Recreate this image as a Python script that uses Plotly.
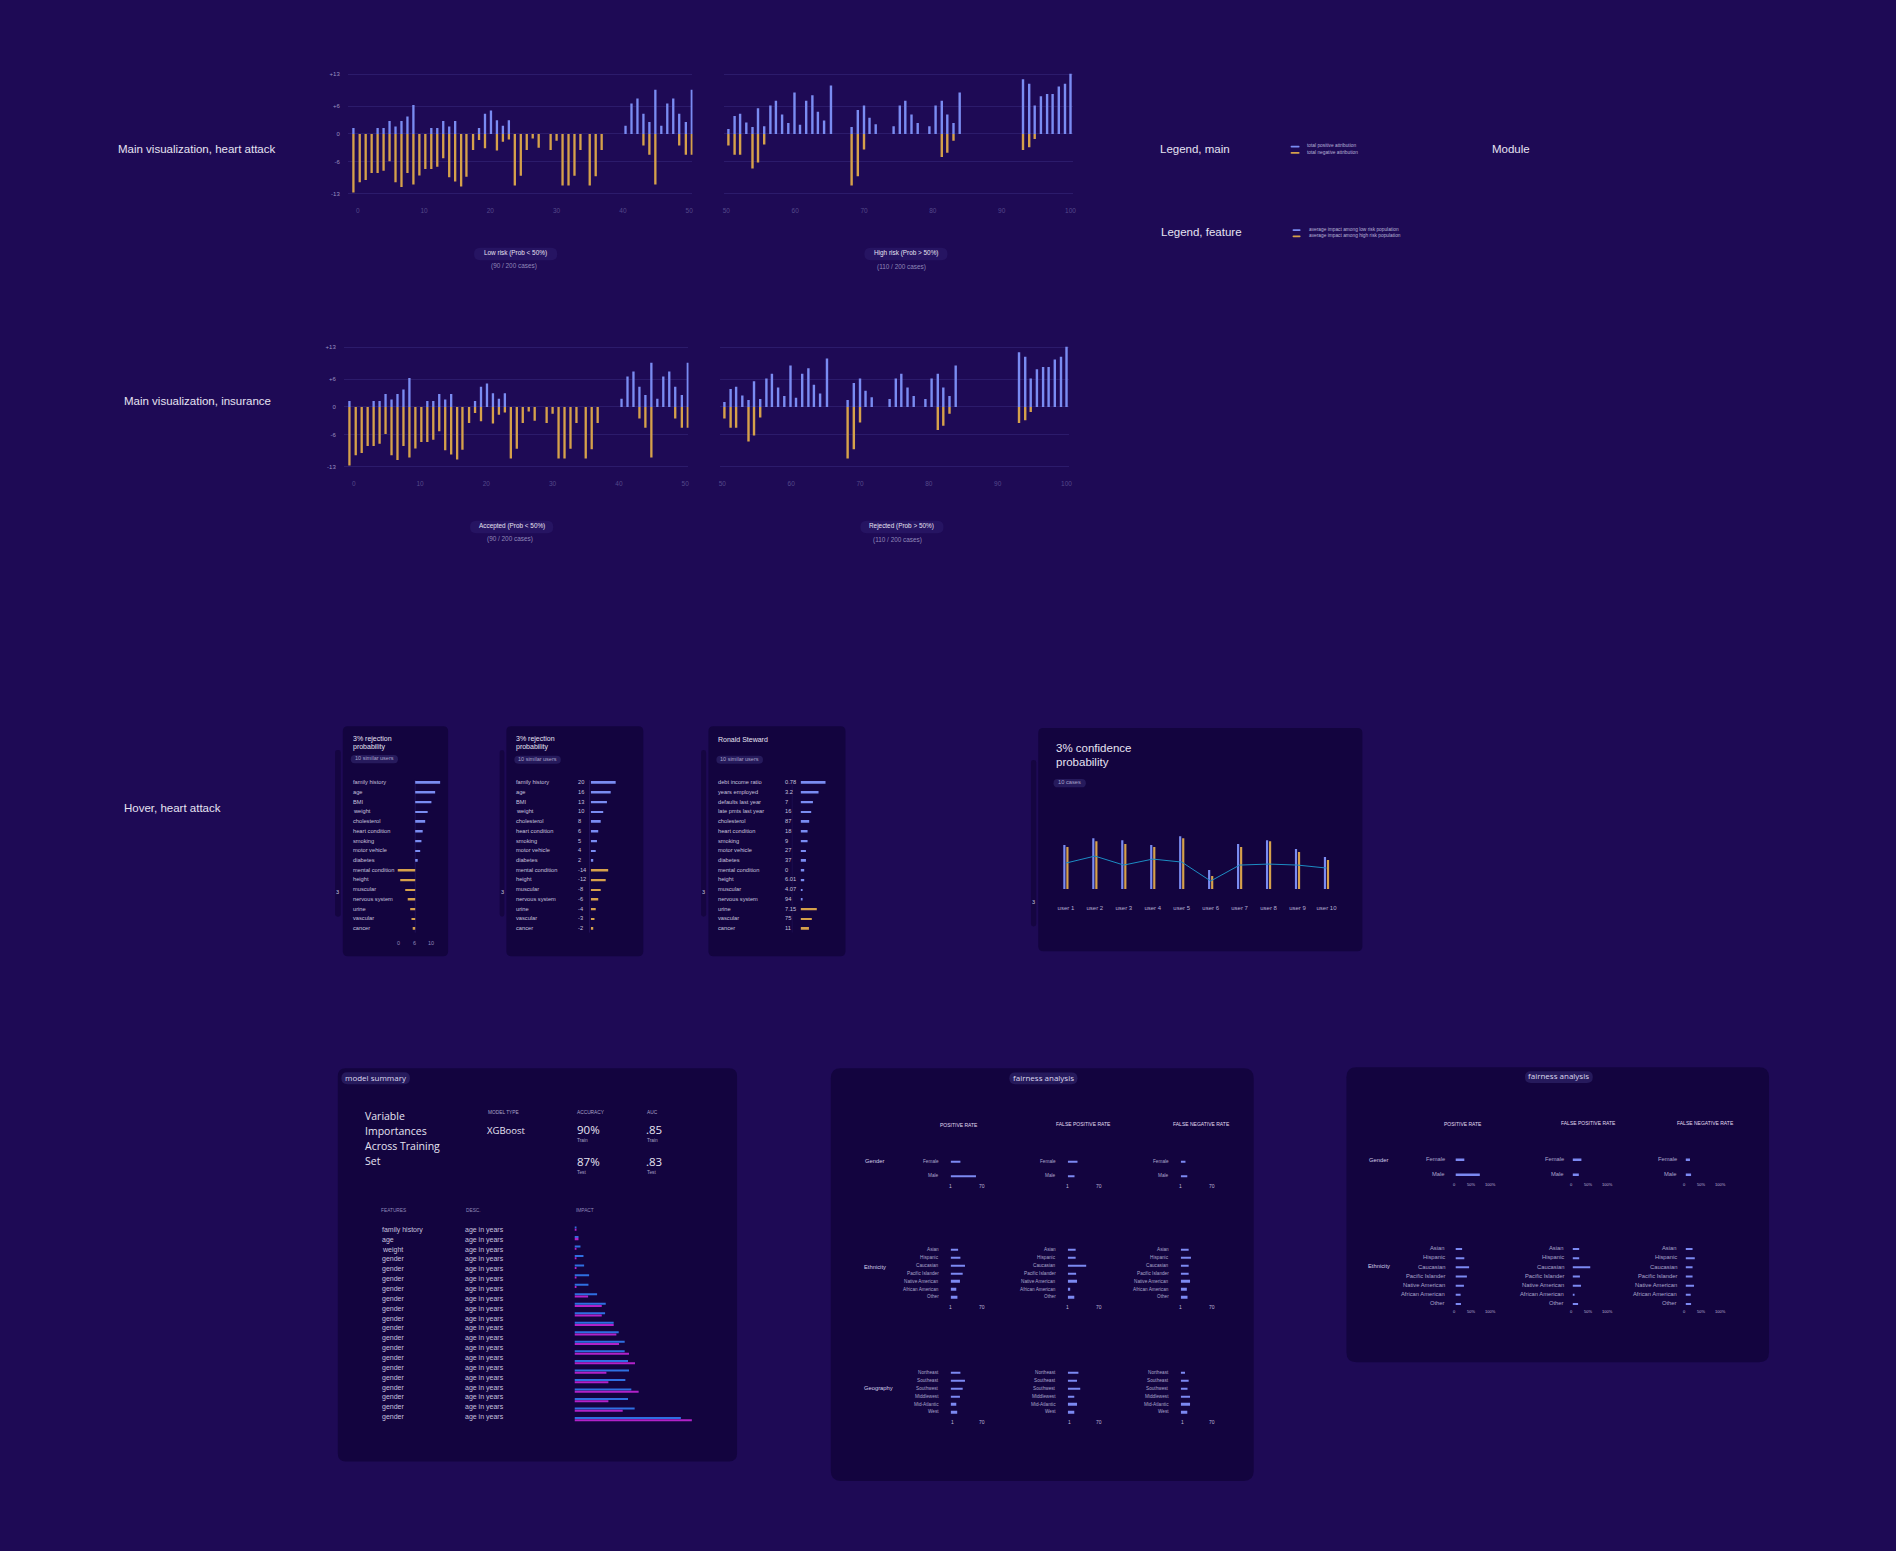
import plotly.graph_objects as go

W, H = 1896, 1551
BG = "#1e0a55"
PANEL = "#13043f"
PILL_MAIN = "#261462"
PILL = "#261a5c"
GRID = "#2c1b6b"
BLUE = "#7a8cf2"
ORANGE = "#d6a14b"
FAIR = "#7c89f2"
IMP_BLUE = "#2f6fe2"
IMP_MAG = "#b222c9"
LINE = "#1d8dc4"
TXT = "#e6e3f2"
TXT2 = "#c6c1de"
DIM = "#8f88b8"
XT = "#54498a"
YT = "#9a92c0"
SANS = "Liberation Sans, Arial, sans-serif"
OPEN = "Open Sans, sans-serif"

# ------------------------------------------------------------------ data
heart_left_x = [-0.65, 0.3, 1.2, 2.1, 3.0, 3.9, 4.8, 5.7, 6.6, 7.5, 8.4, 9.3, 10.2, 11.1, 12.0,
                12.9, 13.8, 14.7, 15.6, 16.4, 17.4, 18.3, 19.2, 20.1, 21.0, 21.9, 22.8, 23.7,
                24.6, 25.5, 26.4, 27.3, 29.1, 30.0, 30.9, 31.8, 32.7, 33.6, 35.0, 35.9, 36.8,
                40.4, 41.3, 42.2, 43.1, 44.0, 44.9, 45.8, 46.7, 47.6, 48.5, 49.5, 50.4]
heart_left_pos = [1.3, 0, 0, 0, 1.3, 1.3, 2.8, 1.6, 2.8, 3.8,
                  6.3, 0, 0, 1.3, 1.3, 2.8, 1.6, 2.8, 0, 0,
                  0, 1.3, 4.4, 5.1, 3.0, 1.8, 3.0, 0, 0, 0,
                  0, 0, 0, 0, 0, 0, 0, 0, 0, 0,
                  0, 1.8, 6.6, 7.7, 4.4, 2.6, 9.6, 1.8, 6.6, 7.7,
                  4.4, 2.6, 9.6]
heart_left_neg = [-12.7, -10.5, -10.0, -8.5, -8.5, -8.0, -5.9, -10.5, -11.5, -8.5,
                  -11.0, -9.0, -7.6, -7.6, -7.1, -5.3, -9.4, -10.3, -11.4, -9.3,
                  -3.5, -1.3, -3.1, 0, -3.6, -1.7, -1.2, -11.2, -9.1, -3.5,
                  -1.0, -3.0, -3.5, -1.5, -11.2, -11.2, -9.1, -3.5, -11.2, -9.2,
                  -3.5, 0, 0, 0, -2.5, -4.5, -11.0, 0, 0, 0,
                  -2.5, -4.5, -4.5]
heart_right_x = [50.3, 51.2, 52.0, 52.9, 53.8, 54.6, 55.5, 56.4, 57.2, 58.1, 59.0, 59.9, 60.7,
                 61.6, 62.5, 63.3, 64.2, 65.2, 68.2, 69.1, 70.0, 70.8, 71.7, 74.3, 75.2, 76.0,
                 76.9, 77.8, 79.5, 80.4, 81.3, 82.1, 83.0, 83.9, 93.1, 94.0, 94.8, 95.7, 96.6,
                 97.4, 98.3, 99.2, 100.0]
heart_right_pos = [1.1, 3.9, 4.4, 2.5, 1.5, 5.6, 1.7, 6.2, 7.2, 4.2,
                   2.4, 9.0, 2.0, 7.2, 8.4, 4.8, 2.9, 10.5, 1.5, 5.2,
                   6.2, 3.5, 2.1, 1.7, 6.2, 7.2, 4.2, 2.4, 1.7, 6.2,
                   7.2, 4.2, 2.4, 9.0, 11.9, 10.9, 6.2, 8.2, 8.7, 8.7,
                   10.3, 10.9, 13.1]
heart_right_neg = [-2.5, -4.5, -4.5, 0, -7.5, -6.2, -2.3, 0, 0, 0,
                   0, 0, 0, 0, 0, 0, 0, 0, -11.2, -9.2,
                   -3.4, 0, 0, 0, 0, 0, 0, 0, 0, 0,
                   -5.0, -4.1, -1.5, 0, -3.5, -2.9, -1.1, 0, 0, 0,
                   0, 0, 0]
# the insurance board reuses the same attribution values
ins_left_x, ins_left_pos, ins_left_neg = list(heart_left_x), list(heart_left_pos), list(heart_left_neg)
ins_right_x, ins_right_pos, ins_right_neg = list(heart_right_x), list(heart_right_pos), list(heart_right_neg)

main_y_ticks = [-13, -6, 0, 6, 13]
main_y_ticktext = ["-13", "-6", "0", "+6", "+13"]
left_x_ticks = [0, 10, 20, 30, 40, 50]
right_x_ticks = [50, 60, 70, 80, 90, 100]

hover_features = ["family history", "age", "BMI", "weight", "cholesterol", "heart condition",
                  "smoking", "motor vehicle", "diabetes", "mental condition", "height",
                  "muscular", "nervous system", "urine", "vascular", "cancer"]
hover_values = [20, 16, 13, 10, 8, 6, 5, 4, 2, -14, -12, -8, -6, -4, -3, -2]
hover_axis_labels = ["0", "6", "10"]

steward_features = ["debt income ratio", "years employed", "defaults last year",
                    "late pmts last year", "cholesterol", "heart condition", "smoking",
                    "motor vehicle", "diabetes", "mental condition", "height", "muscular",
                    "nervous system", "urine", "vascular", "cancer"]
steward_values = ["0.78", "3.2", "7", "16", "87", "18", "9", "27", "37", "0", "6.01",
                  "4.07", "94", "7.15", "75", "11"]
steward_impact = [20, 14.4, 9.9, 8.5, 6.9, 5.6, 5.6, 4.3, 4.3, 2.9, 2.9, 1.3, 1.1, -13, -9, -6.7]

conf_users = ["user 1", "user 2", "user 3", "user 4", "user 5", "user 6", "user 7",
              "user 8", "user 9", "user 10"]
conf_pos = [44, 51, 49, 44, 53, 19, 45, 49, 40, 32]
conf_neg = [42, 48, 45, 42, 51, 13, 42, 48, 37, 29]
conf_line = [26, 33, 24, 30, 27, 8, 24, 25, 24, 21]

ms_features = ["family history", "age", "weight"] + ["gender"] * 17
ms_desc = ["age in years"] * 20
ms_impact_blue = [0.6, 1.2, 1.8, 2.7, 2.9, 4.4, 4.2, 6.8, 9.4, 9.2, 11.8, 13.3, 15.1, 15.1,
                  16.1, 16.4, 15.3, 17.1, 16.1, 18.1, 32.0]
ms_impact_magenta = [0.6, 1.2, 0.6, 0.6, 0.6, 0.6, 0.6, 4.1, 8.2, 8.2, 11.8, 12.6, 13.4, 16.4,
                     18.2, 9.6, 10.2, 19.3, 10.2, 14.5, 35.3]
ms_metric_names = ["MODEL TYPE", "ACCURACY", "AUC"]
ms_model_type = "XGBoost"
ms_accuracy = ["90%", "87%"]
ms_auc = [".85", ".83"]

fair_columns = ["POSITIVE RATE", "FALSE POSITIVE RATE", "FALSE NEGATIVE RATE"]
gender_groups = ["Female", "Male"]
ethnicity_groups = ["Asian", "Hispanic", "Caucasian", "Pacific Islander", "Native American",
                    "African American", "Other"]
geography_groups = ["Northeast", "Southeast", "Southwest", "Middlewest", "Mid-Atlantic", "West"]

f1_gender = [[22, 56], [22, 15.5], [11, 15]]
f1_ethnicity = [[17, 22, 32, 27, 21, 13, 15.5], [18, 18, 41, 19, 21, 6, 15],
                [18, 23, 18, 18, 21, 14, 15.5]]
f1_geography = [[22, 32, 27, 21, 13, 15], [24, 21, 28, 15, 21, 15], [10, 18, 15.5, 21, 21, 15]]
f1_axis_labels = ["1", "70"]

f2_gender = [[24, 66], [24, 17], [12, 15]]
f2_ethnicity = [[18, 24, 37, 31, 23, 14, 15], [18, 18, 48, 20, 23, 5, 15],
                [19, 25, 19, 19, 23, 14, 15]]
f2_axis_labels = ["0", "50%", "100%"]

# ------------------------------------------------------------------ helpers
fig = go.Figure()
shapes, annotations, axes = [], [], {}
count = [0]


def fx(px):
    return px / W


def fy(py):
    return 1 - py / H


def new_axes(x0, x1, y0, y1, xr, yr, xkw=None, ykw=None):
    count[0] += 1
    n = count[0]
    s = "" if n == 1 else str(n)
    base = dict(showgrid=False, zeroline=False, showticklabels=False, showline=False,
                ticks="", fixedrange=True)
    xa = dict(base, domain=[fx(x0), fx(x1)], range=xr, anchor="y" + s)
    ya = dict(base, domain=[fy(y1), fy(y0)], range=yr, anchor="x" + s)
    if xkw:
        xa.update(xkw)
    if ykw:
        ya.update(ykw)
    axes["xaxis" + s] = xa
    axes["yaxis" + s] = ya
    return "x" + s, "y" + s


def text(s, x, y, size, color, anchor="left", family=SANS):
    # shift up slightly so the visual centre of the glyphs sits on y
    annotations.append(dict(text=s, x=fx(x), y=fy(y - 0.14 * size), xref="paper", yref="paper",
                            xanchor=anchor, yanchor="middle", showarrow=False,
                            font=dict(size=size, color=color, family=family)))


def rrect(x0, y0, x1, y1, r, color):
    p = (f"M {fx(x0 + r)},{fy(y0)} L {fx(x1 - r)},{fy(y0)} Q {fx(x1)},{fy(y0)} {fx(x1)},{fy(y0 + r)} "
         f"L {fx(x1)},{fy(y1 - r)} Q {fx(x1)},{fy(y1)} {fx(x1 - r)},{fy(y1)} "
         f"L {fx(x0 + r)},{fy(y1)} Q {fx(x0)},{fy(y1)} {fx(x0)},{fy(y1 - r)} "
         f"L {fx(x0)},{fy(y0 + r)} Q {fx(x0)},{fy(y0)} {fx(x0 + r)},{fy(y0)} Z")
    shapes.append(dict(type="path", path=p, xref="paper", yref="paper", fillcolor=color,
                       line=dict(width=0), layer="below"))


def vline(x, y0, y1, color):
    shapes.append(dict(type="line", x0=fx(x), x1=fx(x), y0=fy(y0), y1=fy(y1), xref="paper",
                       yref="paper", line=dict(color=color, width=1), layer="below"))


def pill(x0, y0, x1, y1, label, size, color, fill, family=SANS):
    rrect(x0, y0, x1, y1, (y1 - y0) / 2, fill)
    text(label, (x0 + x1) / 2, (y0 + y1) / 2, size, color, anchor="center", family=family)


def bar(xa, ya, x, y, color, width, orientation="v", offset=None):
    kw = dict(x=x, y=y, orientation=orientation, width=width, xaxis=xa, yaxis=ya,
              marker=dict(color=color, line=dict(width=0)), hoverinfo="skip")
    if offset is not None:
        kw["offset"] = offset
    fig.add_trace(go.Bar(**kw))


# ------------------------------------------------------------------ section labels
text("Main visualization, heart attack", 115, 148.7, 11.5, TXT)
text("Main visualization, insurance", 121, 401.5, 11.5, TXT)
text("Hover, heart attack", 121, 810, 11.5, TXT)
text("Legend, main", 1160, 149, 11.5, TXT)
text("Module", 1493, 149, 11.5, TXT)
text("Legend, feature", 1160.7, 232.3, 11.5, TXT)

# legends
rrect(1293, 144.2, 1302, 145.9, 0.8, BLUE)
rrect(1293, 150.5, 1302, 152.2, 0.8, ORANGE)
text("total positive attribution", 1307.5, 145, 4.8, "#b8b2d8")
text("total negative attribution", 1307.5, 151.3, 4.8, "#b8b2d8")
rrect(1295, 227.9, 1303, 229.6, 0.8, BLUE)
rrect(1295, 234.2, 1303, 235.9, 0.8, ORANGE)
text("average impact among low risk population", 1309.5, 228.7, 4.8, "#b8b2d8")
text("average impact among high risk population", 1309.5, 235, 4.8, "#b8b2d8")


# ------------------------------------------------------------------ main charts
def main_chart(dx, dy, left, right, caps):
    tickf_x = dict(size=6.5, color=XT, family=SANS)
    tickf_y = dict(size=6, color=YT, family=SANS)
    xl, yl = new_axes(347.7 + dx, 693.3 + dx, 70.9 + dy, 193.7 + dy, [-1.5, 50.5], [-13.3, 13.3],
                      xkw=dict(showticklabels=True, tickvals=left_x_ticks, tickfont=tickf_x,
                               ticklabelstandoff=10),
                      ykw=dict(showgrid=True, gridcolor=GRID, gridwidth=1, tickvals=main_y_ticks,
                               ticktext=main_y_ticktext, showticklabels=True, tickfont=tickf_y,
                               ticklabelstandoff=7))
    bar(xl, yl, left[0], left[1], BLUE, 0.35)
    bar(xl, yl, left[0], left[2], ORANGE, 0.35)
    xr, yr = new_axes(724.5 + dx, 1074.4 + dx, 70.9 + dy, 193.7 + dy, [49.6, 100.3], [-13.3, 13.3],
                      xkw=dict(showticklabels=True, tickvals=right_x_ticks, tickfont=tickf_x,
                               ticklabelstandoff=10),
                      ykw=dict(showgrid=True, gridcolor=GRID, gridwidth=1, tickvals=main_y_ticks))
    bar(xr, yr, right[0], right[1], BLUE, 0.35)
    bar(xr, yr, right[0], right[2], ORANGE, 0.35)
    (c1, s1), (c2, s2) = caps
    pill(474.3 + dx, 246.5 + dy, 557.7 + dx, 259 + dy, c1, 6.4, TXT, PILL_MAIN)
    text(s1, 514.7 + dx, 266 + dy, 6.4, DIM, anchor="center")
    pill(865.7 + dx, 246.5 + dy, 949 + dx, 259 + dy, c2, 6.4, TXT, PILL_MAIN)
    text(s2, 902.7 + dx, 266.5 + dy, 6.4, DIM, anchor="center")


main_chart(0, 0, (heart_left_x, heart_left_pos, heart_left_neg),
           (heart_right_x, heart_right_pos, heart_right_neg),
           [("Low risk (Prob &lt; 50%)", "(90 / 200 cases)"),
            ("High risk (Prob &gt; 50%)", "(110 / 200 cases)")])
main_chart(-4, 273.7, (ins_left_x, ins_left_pos, ins_left_neg),
           (ins_right_x, ins_right_pos, ins_right_neg),
           [("Accepted (Prob &lt; 50%)", "(90 / 200 cases)"),
            ("Rejected (Prob &gt; 50%)", "(110 / 200 cases)")])

# ------------------------------------------------------------------ hover panels
rows_y = [783 + 9.753 * i for i in range(16)]
ry0, ry1 = rows_y[0] - 4.877, rows_y[-1] + 4.877


def hover_frame(x0, x1, slider_x0, slider_x1):
    rrect(x0, 726, x1, 956.7, 5, PANEL)
    rrect(slider_x0, 750, slider_x1, 917, 2.5, "#150541")
    text("3", (slider_x0 + slider_x1) / 2, 893, 5.5, TXT2, anchor="center")


# panel 1
hover_frame(342.7, 448.3, 335, 340.7)
text("3% rejection", 350.7, 740, 7, TXT)
text("probability", 350.7, 748, 7, TXT)
pill(350.7, 755, 398, 763.3, "10 similar users", 5.5, "#a8a2c8", PILL)
for lab, yy in zip(hover_features, rows_y):
    text(lab, 350.7, yy, 5.7, TXT2)
vline(415.3, 780, 933, "#22135a")
xa, ya = new_axes(395, 442, ry0, ry1, [-16.24, 21.36], [15.5, -0.5], ykw=dict(type="category"))
bar(xa, ya, hover_values, hover_features,
    [BLUE if v > 0 else ORANGE for v in hover_values], 0.18, orientation="h")
for lab, xx in zip(hover_axis_labels, [399, 414.3, 430.7]):
    text(lab, xx, 944.3, 5.5, DIM, anchor="center")

# panel 2
hover_frame(506.7, 644, 500, 504.7)
text("3% rejection", 514.7, 740, 7, TXT)
text("probability", 514.7, 748, 7, TXT)
pill(514.7, 755.7, 561.3, 763.7, "10 similar users", 5.5, "#a8a2c8", PILL)
for lab, v, yy in zip(hover_features, hover_values, rows_y):
    text(lab, 514.7, yy, 5.7, TXT2)
    text(str(v), 576.5, yy, 5.7, TXT2)
vline(590, 780, 933, "#22135a")
xa, ya = new_axes(591.3, 625, ry0, ry1, [0, 26.96], [15.5, -0.5], ykw=dict(type="category"))
bar(xa, ya, [abs(v) for v in hover_values], hover_features,
    [BLUE if v > 0 else ORANGE for v in hover_values], 0.18, orientation="h")

# panel 3
hover_frame(709.3, 846.7, 702, 707)
text("Ronald Steward", 717.3, 740, 7, TXT)
pill(717.3, 755.7, 764, 763.7, "10 similar users", 5.5, "#a8a2c8", PILL)
for lab, v, yy in zip(steward_features, steward_values, rows_y):
    text(lab, 717.3, yy, 5.7, TXT2)
    text(v, 784, yy, 5.7, TXT2)
vline(793.3, 780, 933, "#1b0d4e")
xa, ya = new_axes(801.7, 835, ry0, ry1, [0, 26.64], [15.5, -0.5], ykw=dict(type="category"))
bar(xa, ya, [abs(v) for v in steward_impact], steward_features,
    [BLUE if v > 0 else ORANGE for v in steward_impact], 0.18, orientation="h")

# confidence panel
rrect(1040, 728, 1365, 951.7, 5, PANEL)
rrect(1032.7, 760, 1038, 927, 2.5, "#150541")
text("3", 1035.3, 903, 5.5, TXT2, anchor="center")
text("3% confidence", 1055.5, 749.3, 11.5, TXT)
text("probability", 1055.5, 763.3, 11.5, TXT)
pill(1055.3, 779, 1087.7, 787.3, "10 cases", 5.7, "#a8a2c8", PILL)
xa, ya = new_axes(1053.2, 1343.5, 829.3, 889.3, [-0.5, 9.5], [0, 60],
                  xkw=dict(type="category", showticklabels=True, ticklabelstandoff=14,
                           tickfont=dict(size=6, color="#b4aed2", family=SANS)))
bar(xa, ya, conf_users, conf_pos, BLUE, 0.075, offset=-0.09)
bar(xa, ya, conf_users, conf_neg, ORANGE, 0.075, offset=0.015)
fig.add_trace(go.Scatter(x=conf_users, y=conf_line, mode="lines", xaxis=xa, yaxis=ya,
                         line=dict(color=LINE, width=1), hoverinfo="skip"))

# ------------------------------------------------------------------ model summary
rrect(337.7, 1069, 738, 1463.3, 8, PANEL)
pill(341.3, 1073, 410, 1085, "model summary", 8, "#dcd8ee", PILL, family=OPEN)
for i, word in enumerate(["Variable", "Importances", "Across Training", "Set"]):
    text(word, 363.2, 1118.7 + 14.9 * i, 10.5, TXT, family=OPEN)
for name, xx in zip(ms_metric_names, [486, 575.7, 645.3]):
    text(name, xx, 1114, 4.8, "#a8a2c8")
text(ms_model_type, 485.5, 1132.7, 9.5, TXT, family=OPEN)
for val, auc, yy, sub in zip(ms_accuracy, ms_auc, [1132.3, 1164.3], ["Train", "Test"]):
    text(val, 575.2, yy, 11.5, TXT, family=OPEN)
    text(auc, 644.8, yy, 11.5, TXT, family=OPEN)
    text(sub, 575.7, yy + 9.8, 4.8, "#a8a2c8")
    text(sub, 645.3, yy + 9.8, 4.8, "#a8a2c8")
for name, xx in zip(["FEATURES", "DESC.", "IMPACT"], [379.3, 464, 574.7]):
    text(name, xx, 1212.7, 4.8, DIM)
for i, (f, d) in enumerate(zip(ms_features, ms_desc)):
    yy = 1232 + 9.88 * i
    text(f, 380, yy, 7, TXT2)
    text(d, 463.5, yy, 7, TXT2)
xa, ya = new_axes(575, 700, 1223.9, 1424.5, [0, 37.5], [20.5, -0.5])
impact_rows = list(range(len(ms_impact_blue)))
bar(xa, ya, ms_impact_blue, impact_rows, IMP_BLUE, 0.21, orientation="h", offset=-0.105)
bar(xa, ya, ms_impact_magenta, impact_rows, IMP_MAG, 0.21, orientation="h", offset=0.135)


# ------------------------------------------------------------------ fairness panels
def fair_block(starts, label_right, rows, labels, values, axis_y, ticks, tick_offsets, scale,
               xmin, width_units, label_size, tick_size):
    sp = rows[1] - rows[0]
    n = len(labels)
    for c, st in enumerate(starts):
        dom = 45
        xa, ya = new_axes(st, st + dom, rows[0] - sp / 2, rows[-1] + sp / 2,
                          [xmin, xmin + dom / scale], [n - 0.5, -0.5], ykw=dict(type="category"))
        bar(xa, ya, values[c], labels, FAIR, width_units, orientation="h")
        for lab, yy in zip(labels, rows):
            text(lab, label_right[c], yy, label_size, "#aaa4cc", anchor="right")
        for t, off in zip(ticks, tick_offsets):
            text(t, st + off, axis_y, tick_size, "#bdb8d8", anchor="center")


# fairness 1
rrect(832, 1069, 1256, 1482.7, 10, PANEL)
pill(1011, 1073.3, 1079.3, 1085, "fairness analysis", 8, "#dcd8ee", PILL, family=OPEN)
for name, xx, yy in zip(fair_columns, [961, 1085.3, 1203.3], [1126.7, 1125.7, 1125.7]):
    text(name, xx, yy, 5, "#e0dcf0", anchor="center")
text("Gender", 864, 1163.3, 5.8, "#d4d0ea")
text("Ethnicity", 863.3, 1269.3, 5.8, "#d4d0ea")
text("Geography", 863.3, 1390, 5.8, "#d4d0ea")
f1_starts = [952.3, 1069.7, 1183]
f1_lab = [942, 1059.7, 1173]
fair_block(f1_starts, f1_lab, [1162.7, 1177.3], gender_groups, f1_gender, 1187.7,
           f1_axis_labels, [0, 31.7], 0.459, 1, 0.14, 4.7, 5)
fair_block(f1_starts, f1_lab, [1251 + 8 * i for i in range(7)], ethnicity_groups, f1_ethnicity,
           1309.3, f1_axis_labels, [0, 31.7], 0.459, 1, 0.25, 4.7, 5)
fair_block(f1_starts, f1_lab, [1374.3 + 8 * i for i in range(6)], geography_groups, f1_geography,
           1424.3, f1_axis_labels, [1.5, 31.7], 0.459, 1, 0.25, 4.7, 5)

# fairness 2
rrect(1349, 1068, 1772.7, 1363.7, 10, PANEL)
pill(1528, 1072, 1596, 1083.7, "fairness analysis", 8, "#dcd8ee", PILL, family=OPEN)
for name, xx, yy in zip(fair_columns, [1466, 1591.3, 1709], [1125.3, 1124.3, 1124.3]):
    text(name, xx, yy, 5, "#e0dcf0", anchor="center")
text("Gender", 1369.7, 1162.3, 5.8, "#d4d0ea")
text("Ethnicity", 1369, 1268.3, 5.8, "#d4d0ea")
f2_starts = [1458.3, 1575.7, 1689]
f2_lab = [1450.3, 1568.7, 1682]
fair_block(f2_starts, f2_lab, [1161, 1176], gender_groups, f2_gender, 1185.7,
           f2_axis_labels, [-1, 15.4, 35.4], 0.37, 0, 0.13, 5.8, 4)
fair_block(f2_starts, f2_lab, [1250.3 + 9.17 * i for i in range(7)], ethnicity_groups,
           f2_ethnicity, 1313.7, f2_axis_labels, [-1, 15.4, 35.4], 0.37, 0, 0.22, 5.8, 4)

# ------------------------------------------------------------------ layout
fig.update_layout(width=W, height=H, autosize=False, margin=dict(l=0, r=0, t=0, b=0, pad=0),
                  paper_bgcolor=BG, plot_bgcolor="rgba(0,0,0,0)", showlegend=False,
                  barmode="overlay", shapes=shapes, annotations=annotations, **axes)
fig.write_html("out.html", config={"displayModeBar": False})
